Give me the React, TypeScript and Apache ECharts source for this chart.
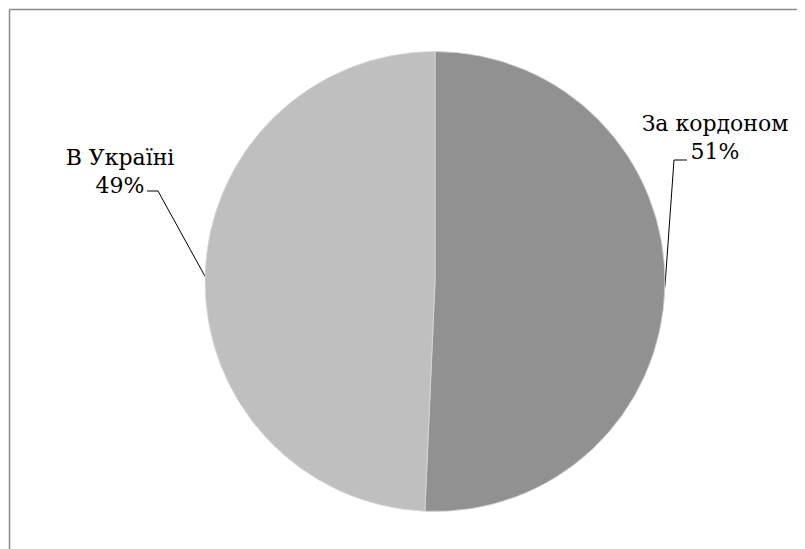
import React, { useEffect, useRef } from "react";
import * as echarts from "echarts";

// Data
const categories = ["За кордоном", "В Україні"];
const shares = [50.7, 49.3];
const sliceColors = ["#919191", "#bfbfbf"];

// Layout (chart-local pixels)
const labelCenters = [
  [707, 129],
  [112, 163],
];
const lineBends = [
  [[666, 152], [679, 152]],
  [[150, 183], [139, 183]],
];

const SERIF = "DejaVu Serif";

export default function App() {
  const ref = useRef<HTMLDivElement>(null);
  useEffect(() => {
    if (!ref.current) return;
    const chart = echarts.init(ref.current, undefined, { renderer: "svg" });
    chart.setOption({
      animation: false,
      backgroundColor: "#ffffff",
      textStyle: { fontFamily: SERIF },
      graphic: [
        { type: "line", shape: { x1: 1.5, y1: 1.5, x2: 797, y2: 1.5 }, style: { stroke: "#8a8a8a", lineWidth: 1.5 } },
        { type: "line", shape: { x1: 1.5, y1: 1.5, x2: 1.5, y2: 541 }, style: { stroke: "#8a8a8a", lineWidth: 1.5 } },
      ],
      series: [
        {
          type: "pie",
          center: [427, 273.5],
          radius: 230,
          startAngle: 90,
          clockwise: true,
          data: categories.map((name, i) => ({
            name,
            value: shares[i],
            itemStyle: { color: sliceColors[i] },
          })),
          itemStyle: { borderColor: "#d8d8d8", borderWidth: 0.8 },
          emphasis: { disabled: true },
          label: {
            show: true,
            position: "outside",
            formatter: (p: any) => `${p.name}\n${Math.round(p.percent)}%`,
            fontFamily: SERIF,
            fontSize: 22,
            lineHeight: 28,
            color: "#000",
            align: "center",
            overflow: "none",
            width: 200,
          },
          labelLine: {
            show: true,
            lineStyle: { color: "#000", width: 1 },
          },
          labelLayout: (params: any) => {
            const i = params.dataIndex;
            const start = params.labelLinePoints ? params.labelLinePoints[0] : [0, 0];
            return {
              x: labelCenters[i][0],
              y: labelCenters[i][1],
              align: "center",
              verticalAlign: "middle",
              labelLinePoints: [start, lineBends[i][0], lineBends[i][1]],
            };
          },
        },
      ],
    });
    return () => chart.dispose();
  }, []);
  return <div ref={ref} style={{ width: 797, height: 541 }} />;
}
